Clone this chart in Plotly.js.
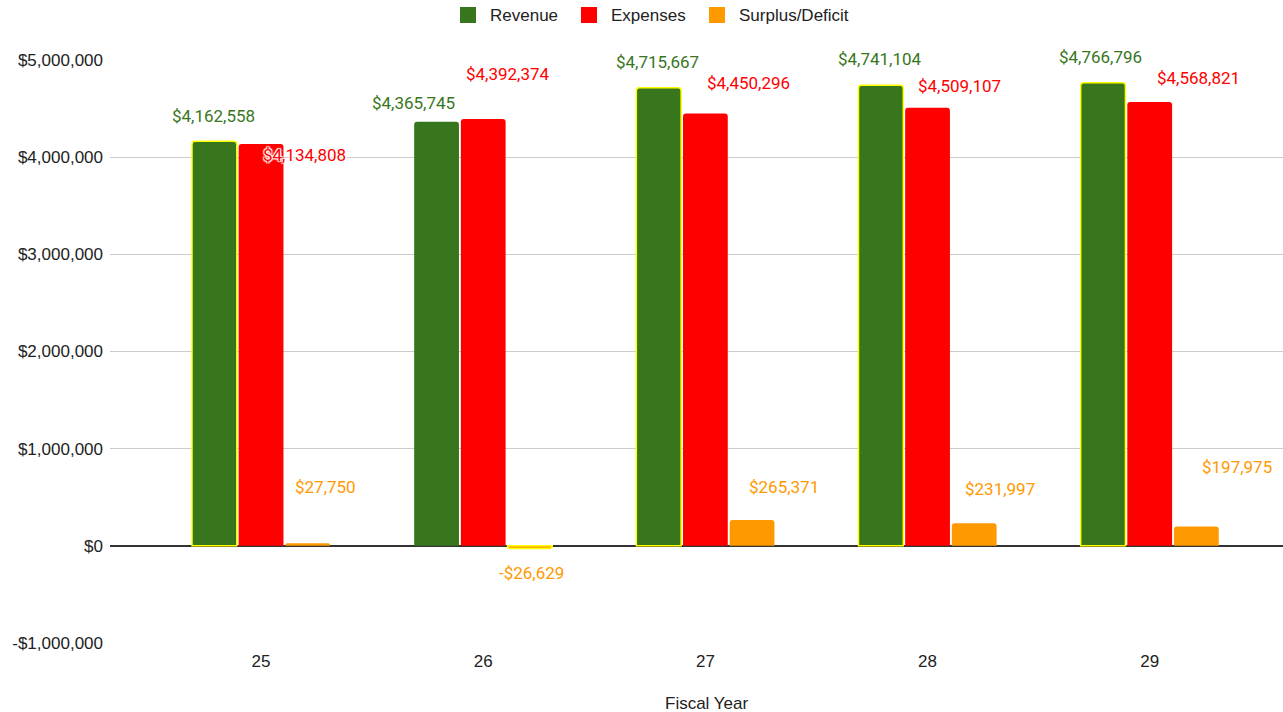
<!DOCTYPE html>
<html>
<head>
<meta charset="utf-8">
<script src="https://cdn.plot.ly/plotly-3.0.1.min.js"></script>
<style>
  html, body { margin: 0; padding: 0; background: #fff; }
  #chart { width: 1283px; height: 712px; }
</style>
</head>
<body>
<div id="chart"></div>
<script>
// Fiscal years and budget figures
const fiscalYears = ['25', '26', '27', '28', '29'];
const revenue  = [4162558, 4365745, 4715667, 4741104, 4766796];
const expenses = [4134808, 4392374, 4450296, 4509107, 4568821];
const surplus  = [27750, -26629, 265371, 231997, 197975];
const seriesNames = ['Revenue', 'Expenses', 'Surplus/Deficit'];

const yTickVals = [-1000000, 0, 1000000, 2000000, 3000000, 4000000, 5000000];
const yTickText = ['-$1,000,000', '$0', '$1,000,000', '$2,000,000', '$3,000,000', '$4,000,000', '$5,000,000'];

const GREEN = '#38761d';
const RED = '#ff0000';
const ORANGE = '#ff9900';
const HILITE = '#ffff00';
const colors = [GREEN, RED, ORANGE];

const money = v => (v < 0 ? '-$' : '$') + Math.abs(v).toLocaleString('en-US');

// highlighted bars get a yellow outline
const revOutline = [true, false, true, true, true];
const expOutline = [false, false, false, false, false];
const surOutline = [false, true, false, false, false];

function barTrace(name, vals, color, outline) {
  return {
    type: 'bar',
    name: name,
    x: fiscalYears,
    y: vals,
    showlegend: false,
    marker: {
      color: color,
      line: {
        color: outline.map(o => o ? HILITE : color),
        width: outline.map(o => o ? 1.5 : 0)
      }
    },
    hoverinfo: 'skip'
  };
}

const series = [revenue, expenses, surplus];
const outlines = [revOutline, expOutline, surOutline];
const traces = series.map((vals, s) => barTrace(seriesNames[s], vals, colors[s], outlines[s]));

// label placement: pixel offsets from each bar's end, plus bar offset within a group
const halo = '1px 1px 1px #fff, -1px -1px 1px #fff, 1px -1px 1px #fff, -1px 1px 1px #fff, 0 0 2px #fff';
const groupOffset = [-47, 0, 47];
const labelShift = [
  [[-1, 25], [-23, 19], [-1, 26], [-1, 26], [-2, 26]],
  [[43, -11], [25, 45], [43, 30], [32, 22], [49, 24]],
  [[17, 56], [1, -25], [32, 33], [25, 34], [40, 60]]
];

const annotations = [];
series.forEach((vals, s) => {
  vals.forEach((v, i) => {
    annotations.push({
      x: i,
      y: v,
      xref: 'x', yref: 'y',
      text: money(v),
      showarrow: false,
      xanchor: 'center', yanchor: 'middle',
      xshift: groupOffset[s] + labelShift[s][i][0],
      yshift: labelShift[s][i][1],
      font: { family: 'Roboto, Arial, sans-serif', size: 17, color: colors[s], shadow: halo }
    });
  });
});

// legend drawn as swatches + labels across the top
const plotLeft = 110, plotWidth = 1173, plotTop = 60, plotHeight = 583;
const legendSwatchX = [460, 581, 709];
const px = p => (p - plotLeft) / plotWidth;
const py = p => 1 + (plotTop - p) / plotHeight;
const shapes = [];
seriesNames.forEach((name, s) => {
  const x0 = legendSwatchX[s];
  shapes.push({
    type: 'rect', xref: 'paper', yref: 'paper',
    x0: px(x0), x1: px(x0 + 16),
    y0: py(23), y1: py(7),
    fillcolor: colors[s], line: { width: 0 }
  });
  annotations.push({
    xref: 'paper', yref: 'paper',
    x: px(x0 + 28), y: py(15),
    xanchor: 'left', yanchor: 'middle',
    text: name, showarrow: false,
    font: { family: 'Liberation Sans, Arial, sans-serif', size: 17, color: '#222222' }
  });
});

// x-axis title
annotations.push({
  xref: 'paper', yref: 'paper',
  x: px(706), y: py(703),
  xanchor: 'center', yanchor: 'middle',
  text: 'Fiscal Year', showarrow: false,
  font: { family: 'Liberation Sans, Arial, sans-serif', size: 17, color: '#222222' }
});

const layout = {
  width: 1283,
  height: 712,
  margin: { l: 110, r: 0, t: 60, b: 69 },
  paper_bgcolor: '#ffffff',
  plot_bgcolor: '#ffffff',
  barmode: 'group',
  bargap: 0.37,
  bargroupgap: 0.04,
  barcornerradius: 3,
  font: { family: 'Liberation Sans, Arial, sans-serif', size: 17, color: '#222222' },
  showlegend: false,
  xaxis: {
    type: 'category',
    range: [-0.68, 4.6],
    showgrid: false,
    zeroline: false,
    showline: false,
    ticks: '',
    ticklabelstandoff: 6,
    tickfont: { size: 17 }
  },
  yaxis: {
    range: [-1000000, 5000000],
    tickvals: yTickVals,
    ticktext: yTickText,
    showgrid: true,
    gridcolor: '#cccccc',
    gridwidth: 1,
    zeroline: true,
    zerolinecolor: '#333333',
    zerolinewidth: 1.5,
    ticks: '',
    ticklabelstandoff: 6,
    tickfont: { size: 17 }
  },
  shapes: shapes,
  annotations: annotations
};

Plotly.newPlot('chart', traces, layout, { displayModeBar: false, staticPlot: true });
</script>
</body>
</html>
